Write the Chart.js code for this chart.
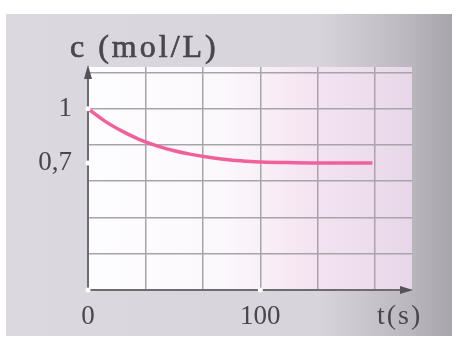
<!DOCTYPE html>
<html>
<head>
<meta charset="utf-8">
<script src="https://cdn.jsdelivr.net/npm/chart.js@4"></script>
<style>
  html,body{margin:0;padding:0;background:#fff;}
  #wrap{position:relative;width:462px;height:349px;}
  #card{position:absolute;left:6px;top:14px;width:446px;height:322px;
    background:linear-gradient(90deg,#dcd8e0 0%,#d8d4dc 70%,#bcb8c0 90%,#a8a4ac 100%);}
  canvas{position:absolute;left:0;top:0;}
</style>
</head>
<body>
<div id="wrap">
  <div id="card"></div>
  <canvas id="c" width="462" height="349"></canvas>
</div>
<script>
// concentration curve
const times = [0, 10, 20, 30, 40, 50, 60, 70, 80, 90, 100, 120, 140, 165];
const conc  = [1, 0.93, 0.875, 0.83, 0.795, 0.768, 0.748, 0.732, 0.72, 0.712, 0.706, 0.702, 0.70, 0.70];
const xLabels = {0:'0', 100:'100'};
const yLabels = {1:'1', 0.7:'0,7'};
const yTicks = [0, 0.2, 0.4, 0.6, 0.7, 0.8, 1.0, 1.2];

const gridCol = '#a8a4ac';
const textCol = '#4a4650';
const serif = '"Liberation Serif","DejaVu Serif",serif';

const decor = {
  id:'decor',
  beforeDraw(chart){
    const {ctx, chartArea:a} = chart;
    ctx.save();
    ctx.fillStyle = '#fdfcfe';
    ctx.fillRect(a.left, a.top, a.right-a.left, a.bottom-a.top);
    // pinkish tint on the right part
    const g = ctx.createLinearGradient(a.left,0,a.right,0);
    g.addColorStop(0,'rgba(250,240,250,0)');
    g.addColorStop(0.4,'rgba(245,228,242,0.15)');
    g.addColorStop(0.65,'rgba(240,215,235,0.6)');
    g.addColorStop(1,'rgba(228,208,228,0.85)');
    ctx.fillStyle = g;
    ctx.fillRect(a.left, a.top, a.right-a.left, a.bottom-a.top);
    ctx.restore();
  },
  afterDraw(chart){
    const {ctx, chartArea:a, scales} = chart;
    ctx.save();
    ctx.strokeStyle = '#6f6b72';
    ctx.fillStyle = '#55515a';
    ctx.lineWidth = 2;
    ctx.beginPath();
    ctx.moveTo(a.left, a.bottom); ctx.lineTo(a.left, a.top+6);
    ctx.moveTo(a.left, a.bottom); ctx.lineTo(a.right-4, a.bottom);
    ctx.stroke();
    // arrows
    ctx.beginPath();
    ctx.moveTo(a.left, a.top-2); ctx.lineTo(a.left-4, a.top+12); ctx.lineTo(a.left+4, a.top+12); ctx.closePath();
    ctx.fill();
    ctx.beginPath();
    ctx.moveTo(a.right+1, a.bottom); ctx.lineTo(a.right-12, a.bottom-4); ctx.lineTo(a.right-12, a.bottom+4); ctx.closePath();
    ctx.fill();
    // small white markers on axes
    ctx.fillStyle = '#ffffff';
    const y07 = scales.y.getPixelForValue(0.7);
    const y1 = scales.y.getPixelForValue(1);
    const x100 = scales.x.getPixelForValue(100);
    [[a.left,y07],[a.left,y1],[x100,a.bottom],[a.left,a.bottom]].forEach(p=>{
      ctx.beginPath(); ctx.arc(p[0],p[1],2.5,0,Math.PI*2); ctx.fill();
    });
    // axis titles
    ctx.fillStyle = textCol;
    ctx.strokeStyle = textCol;
    ctx.lineWidth = 0.7;
    ctx.font = '32px ' + serif;
    ctx.letterSpacing = '3px';
    ctx.textBaseline = 'alphabetic';
    ctx.textAlign = 'left';
    ctx.fillText('c (mol/L)', 70, 57);
    ctx.strokeText('c (mol/L)', 70, 57);
    ctx.font = '28px ' + serif;
    ctx.letterSpacing = '2px';
    ctx.fillText('t(s)', 377, 324);
    ctx.restore();
  }
};

new Chart(document.getElementById('c'), {
  type:'line',
  data:{
    datasets:[{
      data: times.map((t,i)=>({x:t, y:conc[i]})),
      borderColor:'#f2609c',
      borderWidth:3.5,
      pointRadius:0,
      tension:0.4,
      fill:false
    }]
  },
  options:{
    responsive:false,
    animation:false,
    layout:{padding:{top:67, right:50, left:0, bottom:0}},
    plugins:{legend:{display:false}, tooltip:{enabled:false}},
    scales:{
      x:{
        type:'linear', min:0, max:188,
        afterBuildTicks(s){ s.ticks = [0,1,2,3,4,5].map(i=>({value:i*100/3})); },
        afterFit(s){ s.height = 59; },
        grid:{color:gridCol, lineWidth:1.5, drawTicks:false},
        border:{display:false},
        ticks:{
          padding:11, color:textCol, font:{family:serif, size:27},
          maxRotation:0, autoSkip:false,
          callback:v=>xLabels[Math.round(v)] || ''
        }
      },
      y:{
        min:0, max:1.23,
        afterBuildTicks(s){ s.ticks = yTicks.map(v=>({value:v})); },
        afterFit(s){ s.width = 88; },
        grid:{
          color:c=>c.tick && c.tick.value===0.7 ? 'rgba(0,0,0,0)' : gridCol,
          lineWidth:1.5, drawTicks:false
        },
        border:{display:false},
        ticks:{
          padding:16, color:textCol, font:{family:serif, size:27},
          autoSkip:false,
          callback:v=>yLabels[Math.round(v*10)/10] || ''
        }
      }
    }
  },
  plugins:[decor]
});
</script>
</body>
</html>
